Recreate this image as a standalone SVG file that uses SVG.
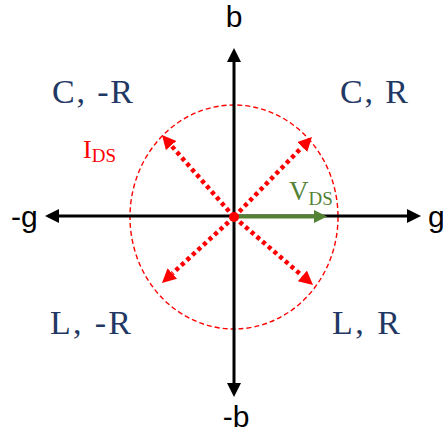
<svg xmlns="http://www.w3.org/2000/svg" width="443" height="444" viewBox="0 0 443 444">
<style>
.axis{stroke:#000;stroke-width:3;fill:none}
.axlbl{font-family:"Liberation Sans",Arial,sans-serif;font-size:30px;fill:#000}
.quad{font-family:"Liberation Serif","Times New Roman",serif;font-size:34px;fill:#1F3864}
.cur{stroke:#FF0000;stroke-width:4.5;stroke-dasharray:4 3.5;fill:none}
.vds{stroke:#548235;stroke-width:4;fill:none}
.sym{font-family:"Liberation Serif","Times New Roman",serif}
</style>
<defs>
<marker id="ah-black" markerUnits="userSpaceOnUse" markerWidth="15" markerHeight="15" refX="0" refY="7" orient="auto">
<path d="M0,0 L14,7 L0,14 z" fill="#000"/>
</marker>
<marker id="ah-red" markerUnits="userSpaceOnUse" markerWidth="16" markerHeight="16" refX="0" refY="7" orient="auto">
<path d="M0,0 L14,7 L0,14 z" fill="#FF0000"/>
</marker>
<marker id="ah-green" markerUnits="userSpaceOnUse" markerWidth="14" markerHeight="14" refX="0" refY="6.5" orient="auto">
<path d="M0,0 L13,6.5 L0,13 z" fill="#548235"/>
</marker>
</defs>
<rect width="443" height="444" fill="#fff"/>

<g id="circle">
<ellipse cx="234" cy="217" rx="104" ry="112" fill="none" stroke="#FF0000" stroke-width="1.4" stroke-dasharray="5 3"/>
</g>

<g id="connectors">
<line class="axis" x1="234" y1="216" x2="59" y2="216" marker-end="url(#ah-black)"/>
<line class="axis" x1="234" y1="216" x2="407" y2="216" marker-end="url(#ah-black)"/>
<line class="axis" x1="234" y1="216" x2="234" y2="62" marker-end="url(#ah-black)"/>
<line class="axis" x1="234" y1="216" x2="234" y2="383" marker-end="url(#ah-black)"/>
<line class="cur" x1="234" y1="217" x2="171.2" y2="145.5" marker-end="url(#ah-red)"/>
<line class="cur" x1="234" y1="217" x2="302.2" y2="147" marker-end="url(#ah-red)"/>
<line class="cur" x1="234" y1="217" x2="172.3" y2="273.5" marker-end="url(#ah-red)"/>
<line class="cur" x1="234" y1="217" x2="302.4" y2="275.9" marker-end="url(#ah-red)"/>
<line class="vds" x1="236" y1="216.5" x2="314" y2="216.5" marker-end="url(#ah-green)"/>
</g>

<g id="origin">
<circle cx="234" cy="217" r="5" fill="#FF0000"/>
</g>

<g id="axis-labels">
<text class="axlbl" x="234" y="27" text-anchor="middle">b</text>
<text class="axlbl" x="236" y="427" text-anchor="middle">-b</text>
<text class="axlbl" x="11" y="227">-g</text>
<text class="axlbl" x="428" y="227">g</text>
</g>

<g id="quadrants">
<text class="quad" x="52" y="103" textLength="81" lengthAdjust="spacing">C, -R</text>
<text class="quad" x="340" y="103" textLength="68" lengthAdjust="spacing">C, R</text>
<text class="quad" x="50" y="334" textLength="81" lengthAdjust="spacing">L, -R</text>
<text class="quad" x="332" y="334" textLength="68" lengthAdjust="spacing">L, R</text>
</g>

<g id="label-ids">
<text class="sym" x="83" y="158" font-size="26" fill="#FF0000">I<tspan font-size="19" dy="4">DS</tspan></text>
</g>
<g id="label-vds">
<text class="sym" x="289" y="200" font-size="27" fill="#548235">V<tspan font-size="19" dy="5">DS</tspan></text>
</g>
</svg>
